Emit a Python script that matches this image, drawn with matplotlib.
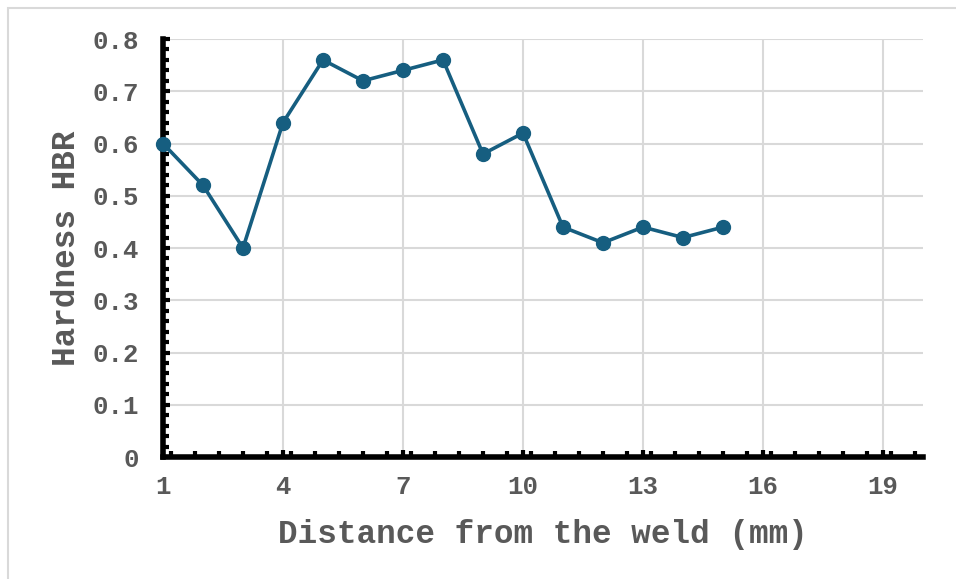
import numpy as np
import matplotlib.pyplot as plt
from matplotlib.ticker import MultipleLocator
from matplotlib.patches import Rectangle

distance = [1, 2, 3, 4, 5, 6, 7, 8, 9, 10, 11, 12, 13, 14, 15]
hardness = [0.60, 0.52, 0.40, 0.64, 0.76, 0.72, 0.74, 0.76, 0.58, 0.62,
            0.44, 0.41, 0.44, 0.42, 0.44]

line_color = "#165E80"
text_color = "#595959"
grid_color = "#D9D9D9"

plt.rcParams['font.family'] = ['Liberation Mono', 'DejaVu Sans Mono']
plt.rcParams['font.weight'] = 'bold'

fig = plt.figure(figsize=(9.56, 5.79), dpi=100)
fig.patches.append(Rectangle((8 / 956, -0.1), 1.2, 1.1 - 8 / 579, transform=fig.transFigure,
                             fill=False, edgecolor=grid_color, linewidth=1.5))
ax = fig.add_axes([0.1705, 0.2107, 0.795, 0.7219])

ax.plot(distance, hardness, color=line_color, linewidth=2.6, marker='o',
        markersize=10, zorder=3, clip_on=False)

ax.set_xlim(1, 20)
ax.set_ylim(0, 0.8)
ax.xaxis.set_major_locator(MultipleLocator(3))
ax.xaxis.set_minor_locator(MultipleLocator(0.6))
ax.yaxis.set_major_locator(MultipleLocator(0.1))
ax.yaxis.set_minor_locator(MultipleLocator(0.02))
ax.set_xticks(np.arange(1, 20, 3))
ax.set_yticks(np.arange(0, 0.81, 0.1))
ax.set_yticklabels(['0'] + ["%.1f" % v for v in np.arange(0.1, 0.81, 0.1)])

ax.grid(True, which='major', color=grid_color, linewidth=1.5, zorder=0)
ax.set_axisbelow(True)

for side in ['top', 'right']:
    ax.spines[side].set_visible(False)
for side in ['left', 'bottom']:
    ax.spines[side].set_linewidth(4)
    ax.spines[side].set_color('black')
    ax.spines[side].set_capstyle('projecting')

ax.tick_params(which='major', direction='in', length=5, width=3, color='black',
               labelsize=18.5, labelcolor=text_color)
ax.tick_params(which='minor', direction='in', length=4, width=3, color='black')
ax.tick_params(axis='y', pad=17)
ax.tick_params(axis='x', pad=13)

ax.set_xlabel("Distance from the weld (mm)", fontsize=23.5, color=text_color,
              fontweight='bold', labelpad=14)
ax.set_ylabel("Hardness HBR", fontsize=23.5, color=text_color, fontweight='bold',
              labelpad=8)

fig.savefig("out.png", dpi=100)
